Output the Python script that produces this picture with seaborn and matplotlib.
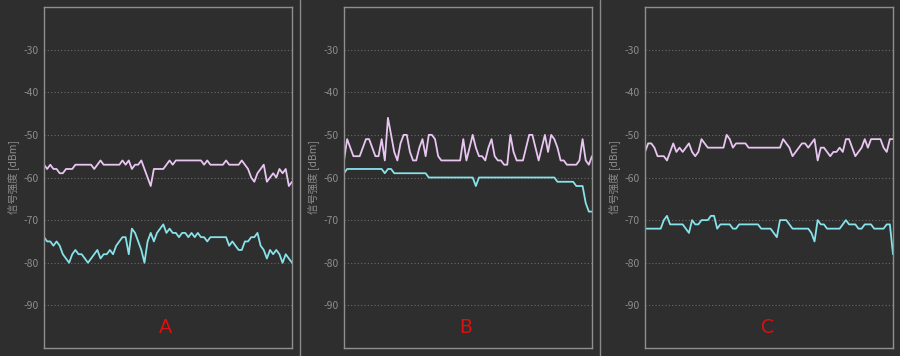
import numpy as np
import pandas as pd
import seaborn as sns
import matplotlib.pyplot as plt

# signal strength readings (dBm), 80 samples per location
a_pink = [-57, -58, -57, -58, -58, -59, -59, -58, -58, -58,
          -57, -57, -57, -57, -57, -57, -58, -57, -56, -57,
          -57, -57, -57, -57, -57, -56, -57, -56, -58, -57,
          -57, -56, -58, -60, -62, -58, -58, -58, -58, -57,
          -56, -57, -56, -56, -56, -56, -56, -56, -56, -56,
          -56, -57, -56, -57, -57, -57, -57, -57, -56, -57,
          -57, -57, -57, -56, -57, -58, -60, -61, -59, -58,
          -57, -61, -60, -59, -60, -58, -59, -58, -62, -61]
a_cyan = [-74, -75, -75, -76, -75, -76, -78, -79, -80, -78,
          -77, -78, -78, -79, -80, -79, -78, -77, -79, -78,
          -78, -77, -78, -76, -75, -74, -74, -78, -72, -73,
          -75, -77, -80, -75, -73, -75, -73, -72, -71, -73,
          -72, -73, -73, -74, -73, -73, -74, -73, -74, -73,
          -74, -74, -75, -74, -74, -74, -74, -74, -74, -76,
          -75, -76, -77, -77, -75, -75, -74, -74, -73, -76,
          -77, -79, -77, -78, -77, -78, -80, -78, -79, -80]
b_pink = [-56, -51, -53, -55, -55, -55, -53, -51, -51, -53,
          -55, -55, -51, -56, -46, -50, -54, -56, -52, -50,
          -50, -54, -56, -56, -53, -51, -55, -50, -50, -51,
          -55, -56, -56, -56, -56, -56, -56, -56, -51, -56,
          -53, -50, -53, -55, -55, -56, -53, -51, -55, -56,
          -56, -57, -57, -50, -54, -56, -56, -56, -53, -50,
          -50, -53, -56, -53, -50, -54, -50, -51, -53, -56,
          -56, -57, -57, -57, -57, -56, -51, -56, -57, -55]
b_cyan = [-59, -58, -58, -58, -58, -58, -58, -58, -58, -58,
          -58, -58, -58, -59, -58, -58, -59, -59, -59, -59,
          -59, -59, -59, -59, -59, -59, -59, -60, -60, -60,
          -60, -60, -60, -60, -60, -60, -60, -60, -60, -60,
          -60, -60, -62, -60, -60, -60, -60, -60, -60, -60,
          -60, -60, -60, -60, -60, -60, -60, -60, -60, -60,
          -60, -60, -60, -60, -60, -60, -60, -60, -61, -61,
          -61, -61, -61, -61, -62, -62, -62, -66, -68, -68]
c_pink = [-54, -52, -52, -53, -55, -55, -55, -56, -54, -52,
          -54, -53, -54, -53, -52, -54, -55, -54, -51, -52,
          -53, -53, -53, -53, -53, -53, -50, -51, -53, -52,
          -52, -52, -52, -53, -53, -53, -53, -53, -53, -53,
          -53, -53, -53, -53, -51, -52, -53, -55, -54, -53,
          -52, -52, -53, -52, -51, -56, -53, -53, -54, -55,
          -54, -54, -53, -54, -51, -51, -53, -55, -54, -53,
          -51, -53, -51, -51, -51, -51, -53, -54, -51, -51]
c_cyan = [-72, -72, -72, -72, -72, -72, -70, -69, -71, -71,
          -71, -71, -71, -72, -73, -70, -71, -71, -70, -70,
          -70, -69, -69, -72, -71, -71, -71, -71, -72, -72,
          -71, -71, -71, -71, -71, -71, -71, -72, -72, -72,
          -72, -73, -74, -70, -70, -70, -71, -72, -72, -72,
          -72, -72, -72, -73, -75, -70, -71, -71, -72, -72,
          -72, -72, -72, -71, -70, -71, -71, -71, -72, -72,
          -71, -71, -71, -72, -72, -72, -72, -71, -71, -78]

panels = ['A', 'B', 'C']
series = {'A': (a_pink, a_cyan), 'B': (b_pink, b_cyan), 'C': (c_pink, c_cyan)}
yticks = [-30, -40, -50, -60, -70, -80, -90]
ylabel = '信号强度 [dBm]'

bg = '#2e2e2e'
pink = '#e9c6f2'
cyan = '#86e3ea'

sns.set_theme(style='dark', rc={'figure.facecolor': bg, 'axes.facecolor': bg})
plt.rcParams['font.family'] = ['Noto Sans CJK SC', 'DejaVu Sans']

fig = plt.figure(figsize=(9, 3.56), dpi=100)
lefts = [44, 344, 645]

for name, left in zip(panels, lefts):
    ax = fig.add_axes([left / 900, 8 / 356, 248 / 900, 341 / 356])
    p, c = series[name]
    df = pd.DataFrame({'t': np.arange(len(p)), 'pink': p, 'cyan': c})
    sns.lineplot(data=df, x='t', y='pink', ax=ax, color=pink, lw=1.3)
    sns.lineplot(data=df, x='t', y='cyan', ax=ax, color=cyan, lw=1.3)
    ax.set_xlim(0, len(p) - 1)
    ax.set_ylim(-100, -20)
    ax.set_yticks(yticks)
    ax.set_yticklabels([str(v) for v in yticks])
    ax.set_xticks([])
    ax.set_xlabel('')
    ax.set_ylabel(ylabel, color='#8c8c8c', fontsize=7.5, labelpad=2)
    ax.tick_params(axis='y', colors='#8c8c8c', labelsize=7.5, length=0, pad=4)
    ax.grid(axis='y', color='#6a6a6a', ls=(0, (1, 2)), lw=0.8)
    ax.grid(axis='x', visible=False)
    for s in ax.spines.values():
        s.set_visible(True)
        s.set_color('#8f8f8f')
        s.set_linewidth(1.0)
    ax.text(0.49, 0.06, name, transform=ax.transAxes, color='#e01010',
            fontsize=14, ha='center', va='center', family=['Lato', 'DejaVu Sans'])

# panel separators
for xs in [300, 600]:
    fig.add_artist(plt.Line2D([xs / 900, xs / 900], [0, 1], color='#8a8a8a', lw=1.0))

fig.savefig('out.png', dpi=100, facecolor=bg)
